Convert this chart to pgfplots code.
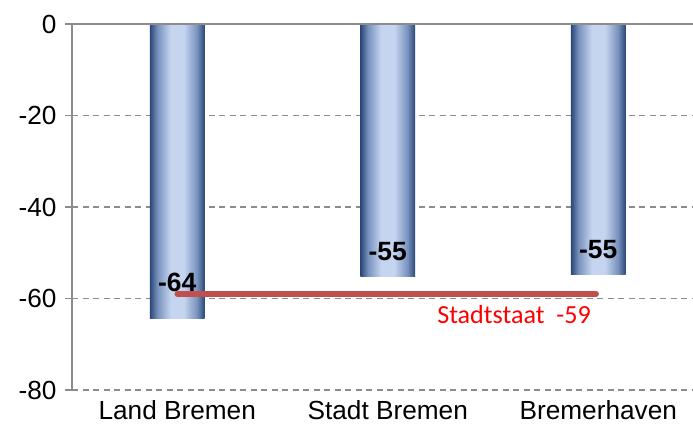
\documentclass[border=0pt]{standalone}
\usepackage{pgfplots}
\pgfplotsset{compat=1.18}
\usepackage{fontspec}
\setmainfont{Liberation Sans}
\newfontfamily\carlito{Carlito}

\definecolor{axisgray}{HTML}{8C8C8C}
\definecolor{bardark}{HTML}{284777}
\definecolor{barmid}{HTML}{7891BD}
\definecolor{barlight}{HTML}{C5D5F0}
\definecolor{avgred}{HTML}{C0504D}
% horizontal gradient of the bars, path maps to 25bp..75bp
\pgfdeclarehorizontalshading{barshade}{100bp}{color(0bp)=(bardark); color(25bp)=(bardark);
  color(32bp)=(barmid); color(44bp)=(barlight); color(56bp)=(barlight);
  color(68bp)=(barmid); color(75bp)=(bardark); color(100bp)=(bardark)}

\begin{document}
\begin{tikzpicture}
\begin{axis}[
  scale only axis, width=621bp, height=366bp,
  xmin=-0.5, xmax=2.45, ymin=-80, ymax=0,
  xtick={0,1,2}, xticklabels={Land Bremen, Stadt Bremen, Bremerhaven},
  ytick={-80,-60,-40,-20,0}, yticklabels={-80,-60,-40,-20,0},
  axis lines=left, axis line style={-, draw=axisgray, line width=1.5bp},
  x axis line style={draw=none},
  xtick style={draw=none},
  ytick style={draw=axisgray, line width=1.5bp},
  tick align=outside, major tick length=7bp,
  ymajorgrids, grid style={draw=axisgray, line width=1.6bp, dash pattern=on 6bp off 4.5bp},
  tick label style={font=\fontsize{26.3}{31}\selectfont, text=black},
  yticklabel style={xshift=-5bp},
  every bar/.style={ybar, bar width=0.261, draw=none, shading=barshade},
  clip=false,
]
% one plot per bar so each gets its own gradient
\addplot[every bar] coordinates {(0,-64.3)};
\addplot[every bar] coordinates {(1,-55.3)};
\addplot[every bar] coordinates {(2,-54.7)};
\draw[axisgray, line width=1.5bp] (rel axis cs:0,1) -- (rel axis cs:1,1);
\addplot[avgred, line width=5.5bp, line cap=round] coordinates {(0,-59) (1.99,-59)};
\node[font=\bfseries\fontsize{26.5}{31}\selectfont] at (axis cs:0,-56.4) {-64};
\node[font=\bfseries\fontsize{26.5}{31}\selectfont] at (axis cs:1,-49.8) {-55};
\node[font=\bfseries\fontsize{26.5}{31}\selectfont] at (axis cs:2,-49.2) {-55};
\node[font=\carlito\fontsize{26.2}{31}\selectfont, text=red] at (axis cs:1.6,-63.4) {Stadtstaat~~-59};
\coordinate (sw) at (rel axis cs:0,0);
\coordinate (ne) at (rel axis cs:1,1);
\end{axis}
\pgfresetboundingbox
\useasboundingbox ([shift={(-72bp,-42bp)}]sw) rectangle ([shift={(0bp,24bp)}]ne);
\end{tikzpicture}
\end{document}
